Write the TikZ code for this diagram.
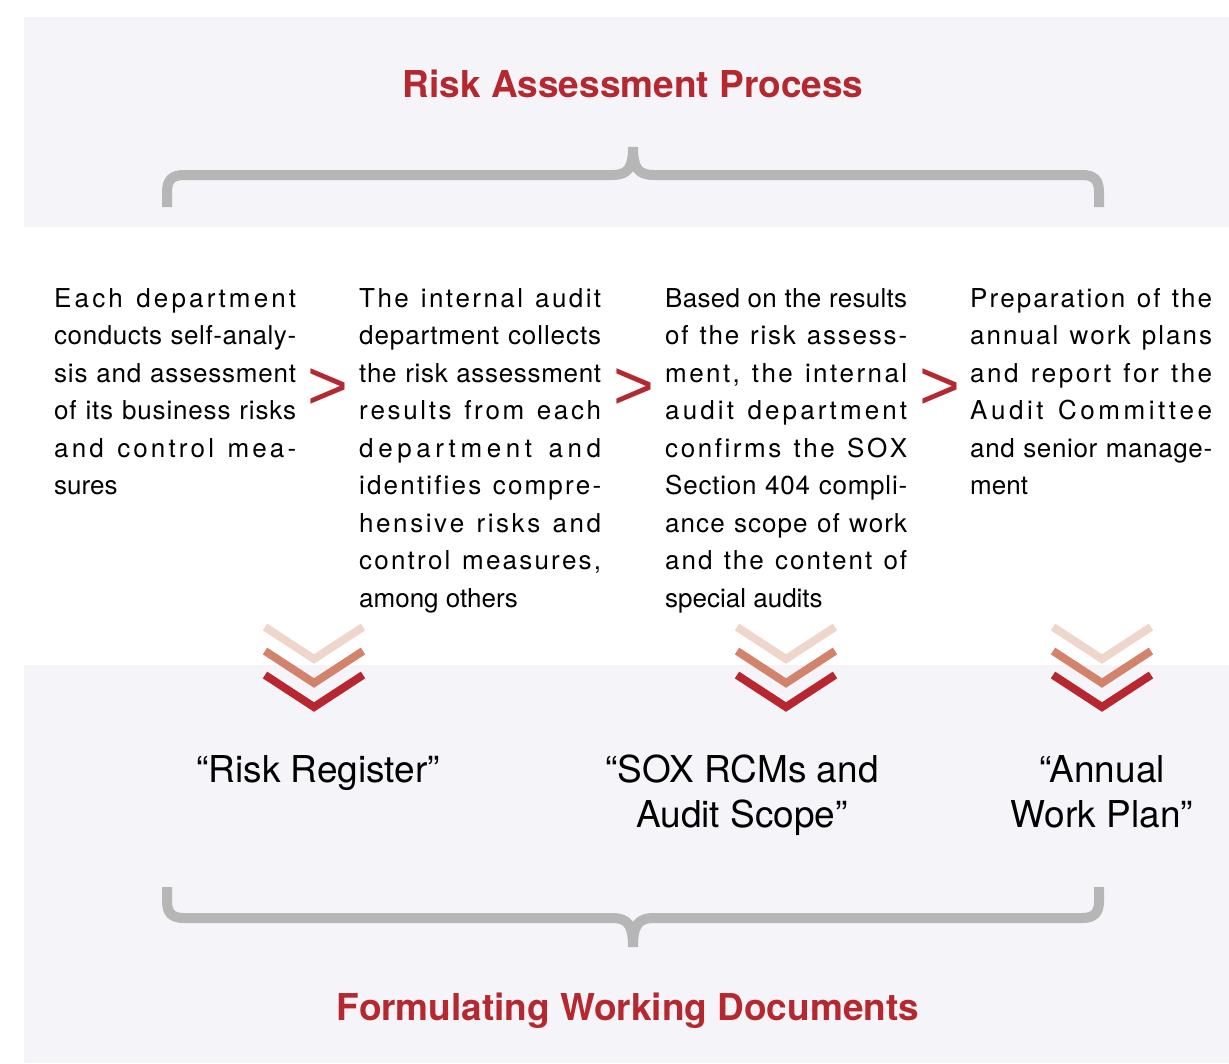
\documentclass[tikz,border=0pt]{standalone}
\usepackage{fontspec}
\setmainfont{TeX Gyre Heros}
\newfontfamily\gtfont{Liberation Sans}
\usepackage{xcolor}
\usetikzlibrary{positioning,calc}

\definecolor{bandbg}{HTML}{F4F4F9}
\definecolor{bracegray}{HTML}{B5B6B5}
\definecolor{riskred}{HTML}{B62830}
\definecolor{chevlight}{HTML}{EFD6CA}
\definecolor{chevmid}{HTML}{D3836C}
\definecolor{chevdark}{HTML}{B8262F}

% one full line of a step text, spread by letter spacing
\ExplSyntaxOn
\seq_new:N \l_jl_words_seq
\seq_new:N \l_jl_out_seq
\tl_new:N \l_jl_word_tl
\NewDocumentCommand \jl { m }
  {
    \seq_set_split:Nnn \l_jl_words_seq { ~ } { #1 }
    \seq_clear:N \l_jl_out_seq
    \seq_map_inline:Nn \l_jl_words_seq
      {
        \tl_clear:N \l_jl_word_tl
        \tl_map_inline:nn { ##1 }
          {
            \tl_if_empty:NF \l_jl_word_tl { \tl_put_right:Nn \l_jl_word_tl { \hfil } }
            \tl_put_right:Nn \l_jl_word_tl { ####1 }
          }
        \seq_put_right:NV \l_jl_out_seq \l_jl_word_tl
      }
    \makebox[242pt][s]{ \seq_use:Nn \l_jl_out_seq { \hfil \c_space_tl \hfil } } \\
  }
\ExplSyntaxOff

\begin{document}
\begin{tikzpicture}[x=1pt,y=-1pt,
    band/.style={fill=bandbg,draw=none},
    bracket/.style={draw=bracegray,line width=10pt,line join=bevel},
    title/.style={text=riskred,font=\fontsize{37}{44}\selectfont\bfseries,inner sep=0pt,anchor=base},
    steptext/.style={text width=242pt,inner sep=0pt,align=justify,font=\fontsize{26}{37.5}\selectfont,anchor=base west},
    gt/.style={text=riskred,font=\gtfont\fontsize{70}{70}\selectfont,inner sep=0pt,anchor=center},
    result/.style={align=center,font=\fontsize{37}{45}\selectfont,inner sep=0pt,anchor=base},
    chev/.style={line width=8pt,miter limit=10}]

    \useasboundingbox[fill=white] (0,0) rectangle (1229,1063);

    % Bands
    \fill[band] (24,17) rectangle (1229,227);
    \fill[band] (24,665) rectangle (1229,1063);

    % Top
    \node[title] (process) at (633,97) {Risk Assessment Process};
    \draw[bracket] (167,207) -- (167,192) .. controls (167,180) and (172,175) .. (184,175)
        -- (612,175) .. controls (628,175) and (633,168) .. (633,147)
        .. controls (633,168) and (638,175) .. (654,175)
        -- (1082,175) .. controls (1094,175) and (1099,180) .. (1099,192) -- (1099,207);

    % Steps
    \node[steptext] (self) at (54,307) {%
        \jl{Each department}
        \jl{conducts self-analy-}
        \jl{sis and assessment}
        \jl{of its business risks}
        \jl{and control mea-}
        sures};
    \node[steptext] (collect) at (359,307) {%
        \jl{The internal audit}
        \jl{department collects}
        \jl{the risk assessment}
        \jl{results from each}
        \jl{department and}
        \jl{identifies compre-}
        \jl{hensive risks and}
        \jl{control measures,}
        among others};
    \node[steptext] (confirm) at (665,307) {%
        \jl{Based on the results}
        \jl{of the risk assess-}
        \jl{ment, the internal}
        \jl{audit department}
        \jl{confirms the SOX}
        \jl{Section 404 compli-}
        \jl{ance scope of work}
        \jl{and the content of}
        special audits};
    \node[steptext] (report) at (970,307) {%
        \jl{Preparation of the}
        \jl{annual work plans}
        \jl{and report for the}
        \jl{Audit Committee}
        \jl{and senior manage-}
        ment};

    \node[gt] (gt1) at (328,389) {>};
    \node[gt] (gt2) at (634,389) {>};
    \node[gt] (gt3) at (940,389) {>};

    % Chevrons
    \foreach \cx in {314,786,1102} {
        \draw[chev,chevlight] (\cx-49,627) -- (\cx,659) -- (\cx+49,627);
        \draw[chev,chevmid] (\cx-49,651) -- (\cx,683) -- (\cx+49,651);
        \draw[chev,chevdark] (\cx-49,675) -- (\cx,707) -- (\cx+49,675);
    }

    % Documents (base = last line)
    \node[result] (register) at (318,782) {“Risk Register”};
    \node[result] (scope) at (742,827) {“SOX RCMs and\\Audit Scope”};
    \node[result] (plan) at (1102,827) {“Annual\\Work Plan”};

    % Bottom
    \draw[bracket] (167,887) -- (167,901) .. controls (167,913) and (172,918) .. (184,918)
        -- (612,918) .. controls (628,918) and (633,925) .. (633,947)
        .. controls (633,925) and (638,918) .. (654,918)
        -- (1082,918) .. controls (1094,918) and (1099,913) .. (1099,901) -- (1099,887);
    \node[title] (documents) at (628,1020) {Formulating Working Documents};
\end{tikzpicture}
\end{document}
